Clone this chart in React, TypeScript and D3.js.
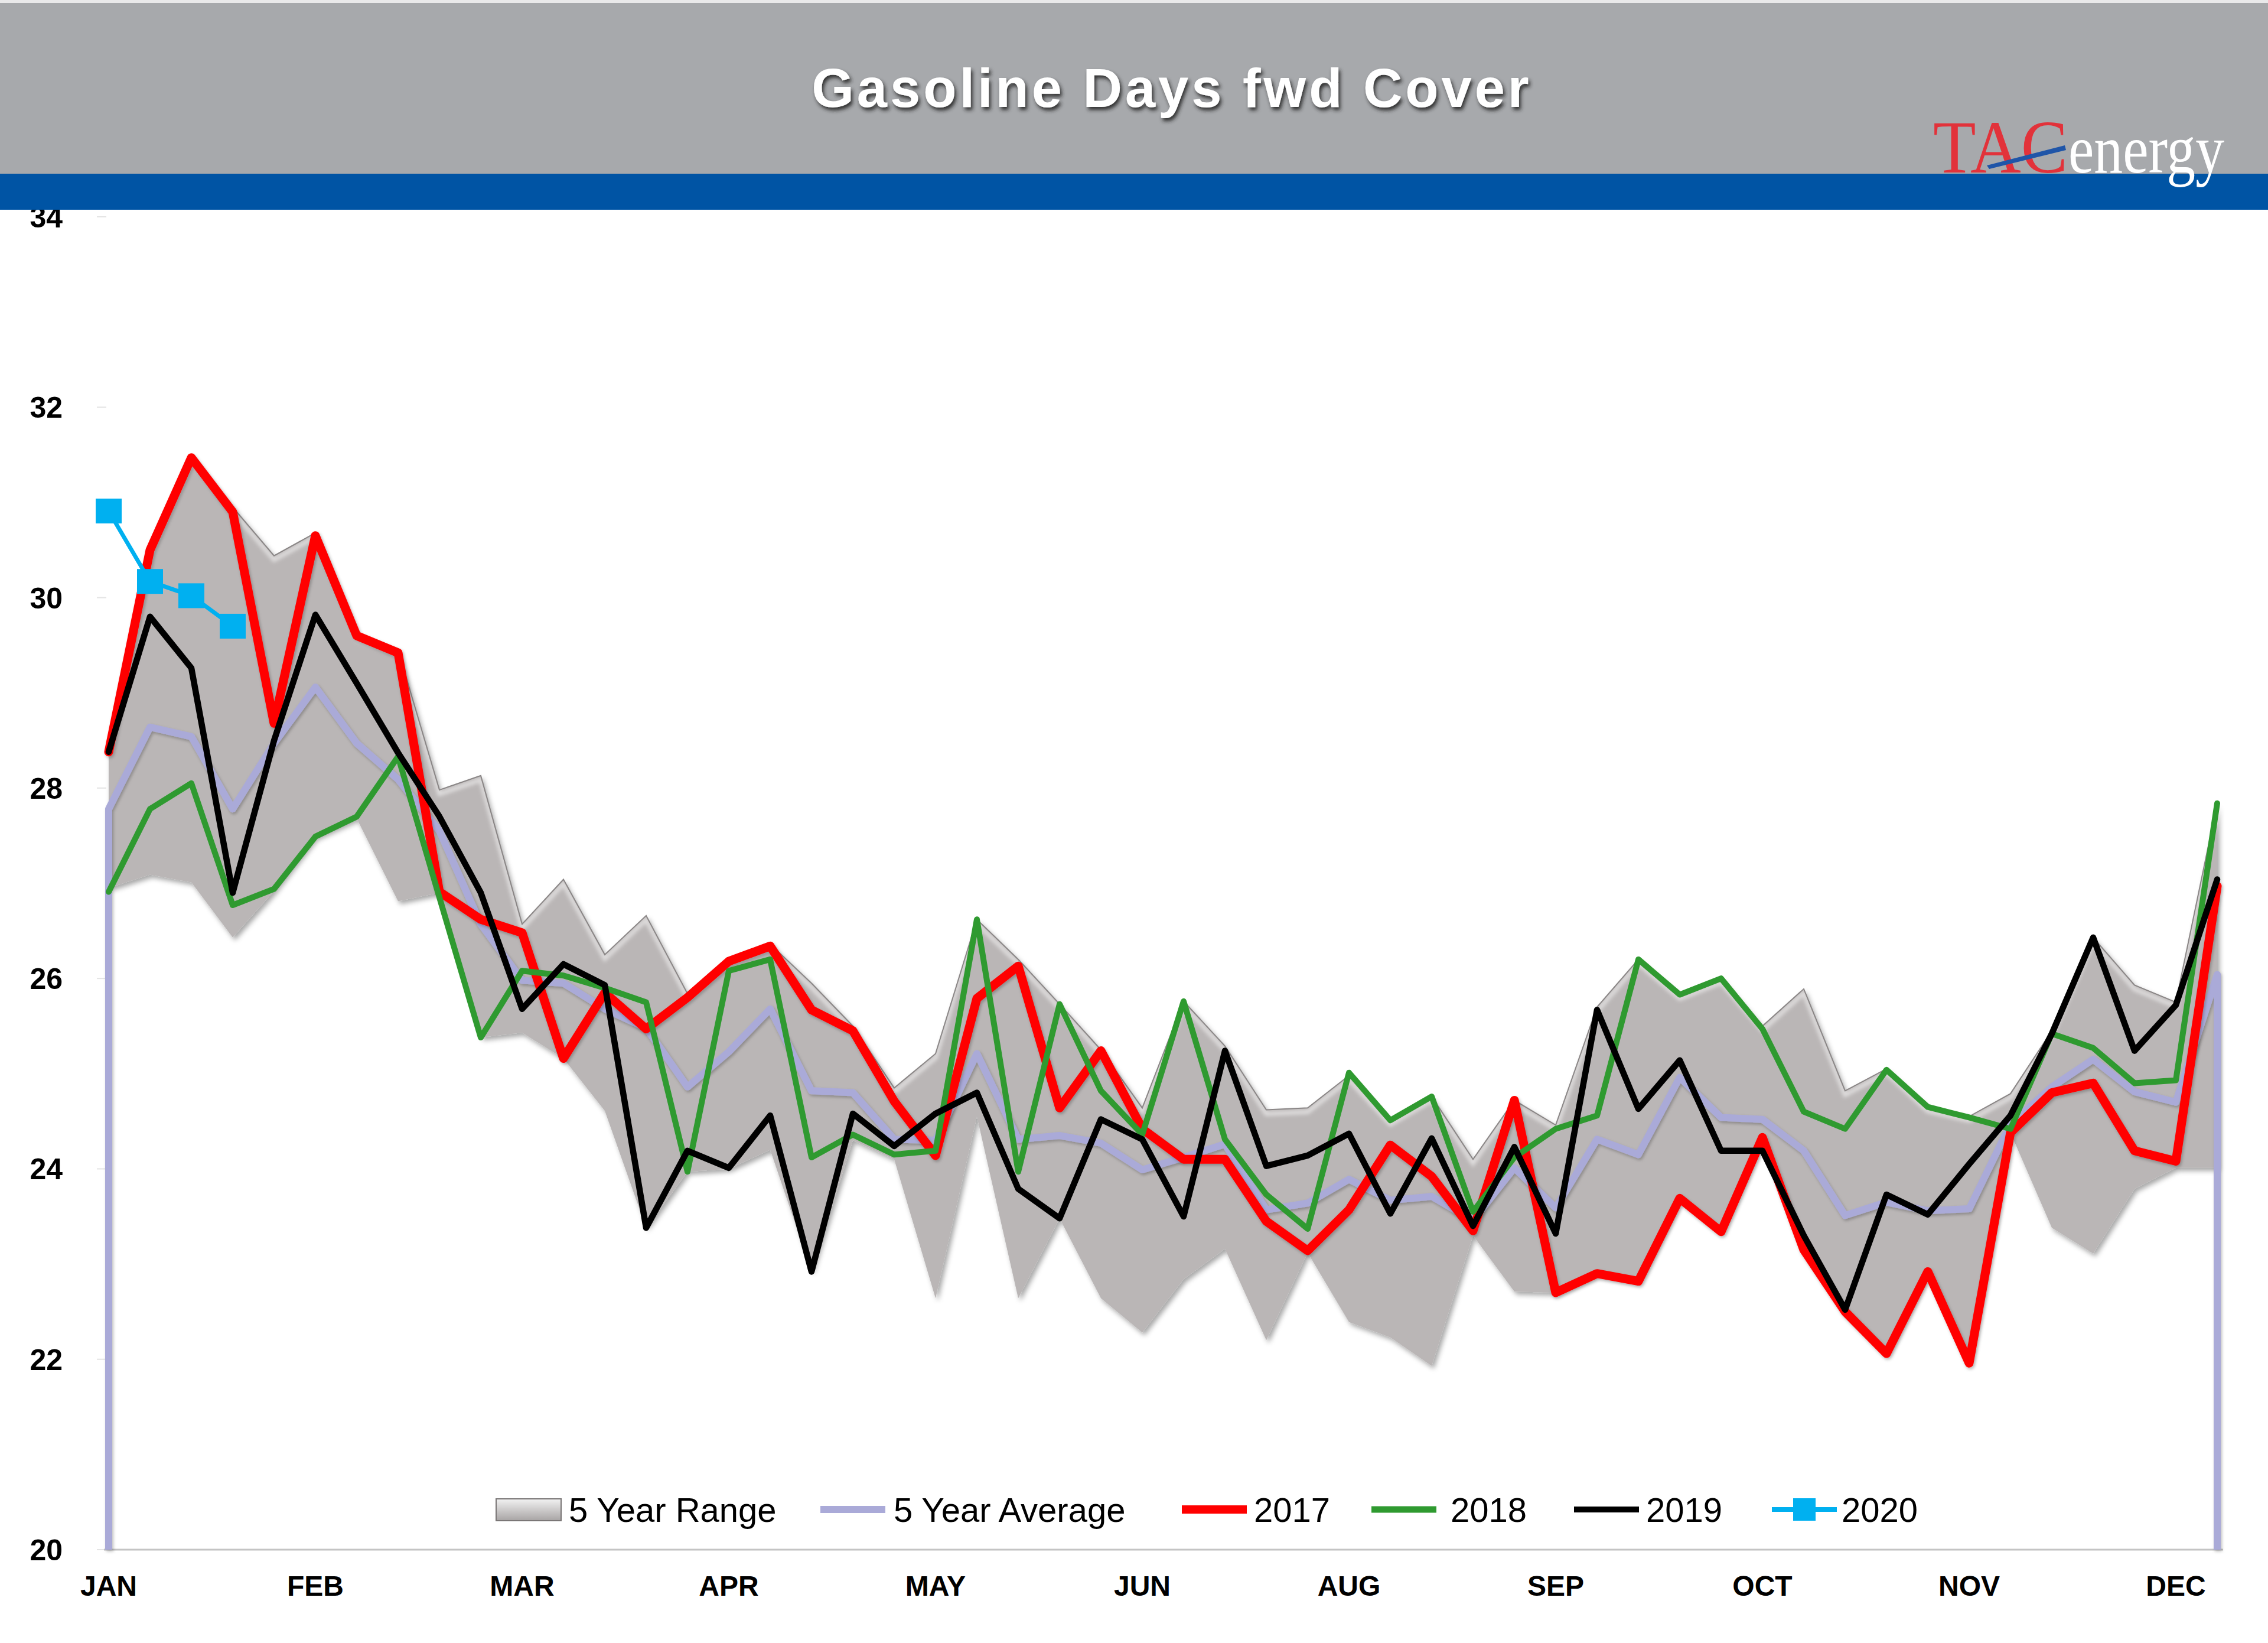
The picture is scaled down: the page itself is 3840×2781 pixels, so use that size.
import React from 'react';
import * as d3 from 'd3';

// ---- data (weekly, 52 weeks) ----
const rangeHigh = [28.4, 30.52, 31.47, 30.95, 30.44, 30.68, 29.6, 29.45, 27.98, 28.13,
  26.57, 27.04, 26.25, 26.66, 25.84, 26.2, 26.36, 25.95, 25.5, 24.85,
  25.21, 26.62, 26.2, 25.73, 25.25, 24.64, 25.76, 25.29, 24.62, 24.64,
  24.98, 24.51, 24.76, 24.1, 24.72, 24.46, 25.7, 26.2, 25.83, 26.0,
  25.5, 25.89, 24.82, 25.05, 24.65, 24.55, 24.79, 25.45, 26.43, 25.93,
  25.75, 27.84];
const rangeLow = [26.95, 27.09, 27.01, 26.43, 26.92, 27.48, 27.68, 26.81, 26.9, 25.38,
  25.43, 25.16, 24.61, 23.38, 23.97, 24.0, 24.2, 22.92, 24.3, 24.1,
  22.64, 24.55, 22.64, 23.48, 22.64, 22.28, 22.84, 23.16, 22.2, 23.12,
  22.39, 22.23, 21.93, 23.3, 22.71, 22.7, 22.9, 22.82, 23.69, 23.34,
  24.33, 23.15, 22.5, 22.06, 22.92, 21.96, 24.38, 23.38, 23.11, 23.79,
  24.01, 24.01];
const avg5 = [27.78, 28.64, 28.54, 27.78, 28.47, 29.06, 28.47, 28.09, 27.55, 26.57,
  25.98, 25.95, 25.68, 25.48, 24.86, 25.23, 25.68, 24.82, 24.8, 24.31,
  24.3, 25.21, 24.31, 24.35, 24.27, 23.99, 24.12, 24.26, 23.57, 23.64,
  23.89, 23.67, 23.71, 23.46, 24.01, 23.59, 24.31, 24.15, 24.96, 24.54,
  24.52, 24.19, 23.51, 23.65, 23.56, 23.58, 24.47, 24.86, 25.15, 24.81,
  24.7, 26.04];
const y2017 = [28.38, 30.5, 31.47, 30.9, 28.68, 30.65, 29.6, 29.42, 26.91, 26.62,
  26.48, 25.16, 25.85, 25.47, 25.8, 26.18, 26.34, 25.67, 25.45, 24.71,
  24.14, 25.79, 26.13, 24.64, 25.24, 24.42, 24.1, 24.1, 23.45, 23.14,
  23.57, 24.25, 23.92, 23.35, 24.72, 22.7, 22.9, 22.82, 23.69, 23.34,
  24.33, 23.15, 22.5, 22.06, 22.92, 21.96, 24.38, 24.8, 24.9, 24.19,
  24.08, 26.97];
const y2018 = [26.91, 27.78, 28.05, 26.77, 26.94, 27.49, 27.7, 28.33, 26.85, 25.38,
  26.08, 26.03, 25.9, 25.75, 23.97, 26.08, 26.2, 24.12, 24.36, 24.15,
  24.19, 26.62, 23.97, 25.73, 24.82, 24.36, 25.76, 24.31, 23.73, 23.37,
  25.01, 24.51, 24.76, 23.55, 24.12, 24.42, 24.56, 26.2, 25.83, 26.0,
  25.47, 24.6, 24.42, 25.04, 24.65, 24.54, 24.42, 25.42, 25.27, 24.9,
  24.93, 27.84];
const y2019 = [28.38, 29.8, 29.26, 26.9, 28.5, 29.82, 29.1, 28.37, 27.7, 26.9,
  25.68, 26.15, 25.93, 23.38, 24.19, 24.01, 24.56, 22.92, 24.58, 24.24,
  24.58, 24.8, 23.79, 23.48, 24.52, 24.31, 23.5, 25.24, 24.03, 24.14,
  24.37, 23.53, 24.32, 23.4, 24.23, 23.32, 25.67, 24.63, 25.14, 24.19,
  24.19, 23.3, 22.52, 23.73, 23.52, 24.05, 24.56, 25.42, 26.43, 25.24,
  25.72, 27.04];
const y2020 = [30.91, 30.17, 30.02, 29.7];

const monthLabels = ['JAN', 'FEB', 'MAR', 'APR', 'MAY', 'JUN', 'AUG', 'SEP', 'OCT', 'NOV', 'DEC'];
const labelEvery = 5;
const yTicks = [20, 22, 24, 26, 28, 30, 32, 34];
const legendNames = ['5 Year Range', '5 Year Average', '2017', '2018', '2019', '2020'];
const titleText = 'Gasoline Days fwd Cover';

// ---- styling ----
const W = 3840, H = 2781;
const FONT = '"Liberation Sans", Arial, Helvetica, sans-serif';
const SERIF = '"Liberation Serif", "Times New Roman", serif';
const C_RANGE = '#bab6b6';
const C_AVG = '#aaaad8';
const C_2017 = '#ff0000';
const C_2018 = '#2f9a30';
const C_2019 = '#000000';
const C_2020 = '#00b0f0';

export default function App() {
  const idx = rangeHigh.map((_, i) => i);
  const x = d3.scalePoint<number>().domain(idx).range([184, 3754]);
  const y = d3.scaleLinear().domain([20, 34]).range([2623, 367]);

  const area = d3.area<number>()
    .x((i) => x(i) as number)
    .y0((i) => y(rangeLow[i]))
    .y1((i) => y(rangeHigh[i]));
  const lineOf = (vals: number[]) =>
    d3.line<number>().x((_, i) => x(i) as number).y((v) => y(v))(vals) as string;
  const highLine = lineOf(rangeHigh);

  // 5-year average drawn as an outlined area (drops to the axis at both ends)
  const avgPts: [number, number][] = [
    [x(0) as number, y(20)],
    ...avg5.map((v, i) => [x(i) as number, y(v)] as [number, number]),
    [x(avg5.length - 1) as number, y(20)],
  ];
  const avgPath = d3.line()(avgPts) as string;

  const legendY = 2555;
  const legendItems = [
    { sw: 840, tx: 963 },
    { sw: 1389, tx: 1513 },
    { sw: 2001, tx: 2123 },
    { sw: 2322, tx: 2456 },
    { sw: 2665, tx: 2787 },
    { sw: 3000, tx: 3118 },
  ];
  const swW = 110;

  return (
    <svg width={W} height={H} viewBox={`0 0 ${W} ${H}`}
      style={{ position: 'absolute', left: 0, top: 0, display: 'block', background: '#fff' }}>
      <defs>
        <filter id="shadow" x="-5%" y="-5%" width="110%" height="115%">
          <feDropShadow dx="4" dy="5" stdDeviation="4" floodColor="#000" floodOpacity="0.35" />
        </filter>
        <filter id="lshadow" x="-5%" y="-5%" width="110%" height="115%">
          <feDropShadow dx="2" dy="3" stdDeviation="2.5" floodColor="#000" floodOpacity="0.25" />
        </filter>
        <filter id="tshadow" x="-5%" y="-20%" width="110%" height="150%">
          <feDropShadow dx="3" dy="5" stdDeviation="3" floodColor="#222" floodOpacity="0.9" />
        </filter>
        <filter id="blur1"><feGaussianBlur stdDeviation="3" /></filter>
        <clipPath id="rangeClip"><path d={area(idx) as string} /></clipPath>
        <linearGradient id="swGrad" x1="0" y1="0" x2="0" y2="1">
          <stop offset="0" stopColor="#f2f2f2" />
          <stop offset="1" stopColor="#a8a4a4" />
        </linearGradient>
      </defs>

      <rect x={0} y={0} width={W} height={H} fill="#ffffff" />

      {/* y tick marks (faint) */}
      {yTicks.map((t) => (
        <line key={'tm' + t} x1={164} x2={180} y1={y(t)} y2={y(t)} stroke="#e4e4e4" strokeWidth={2} />
      ))}

      {/* bottom axis line with soft shadow */}
      <line x1={176} x2={3764} y1={y(20) + 2} y2={y(20) + 2} stroke="#9a9a9a" strokeWidth={9} filter="url(#blur1)" />
      <line x1={176} x2={3764} y1={y(20)} y2={y(20)} stroke="#c4c4c4" strokeWidth={3} />

      {/* 5 year range */}
      <g filter="url(#shadow)">
        <path d={area(idx) as string} fill={C_RANGE} />
      </g>
      <g clipPath="url(#rangeClip)">
        <path d={highLine} transform="translate(0,7)" fill="none" stroke="#ffffff" strokeOpacity={0.55} strokeWidth={7} filter="url(#blur1)" />
      </g>
      <path d={highLine} fill="none" stroke="#8a8686" strokeWidth={2} />

      {/* 5 year average */}
      <path d={avgPath} fill="none" stroke={C_AVG} strokeWidth={12} strokeLinejoin="round" filter="url(#lshadow)" />

      {/* yearly lines */}
      <path d={lineOf(y2017)} fill="none" stroke={C_2017} strokeWidth={15} strokeLinejoin="round" strokeLinecap="round" filter="url(#lshadow)" />
      <path d={lineOf(y2018)} fill="none" stroke={C_2018} strokeWidth={10} strokeLinejoin="round" strokeLinecap="round" />
      <path d={lineOf(y2019)} fill="none" stroke={C_2019} strokeWidth={10.5} strokeLinejoin="round" strokeLinecap="round" />
      <path d={lineOf(y2020)} fill="none" stroke={C_2020} strokeWidth={7} strokeLinejoin="round" />
      {y2020.map((v, i) => (
        <rect key={'m' + i} x={(x(i) as number) - 22} y={y(v) - 21} width={44} height={42} fill={C_2020} />
      ))}

      {/* y labels */}
      {yTicks.map((t) => (
        <text key={'yl' + t} x={106} y={y(t) + 18} textAnchor="end" fontFamily={FONT}
          fontWeight="bold" fontSize={50} fill="#000">{t}</text>
      ))}

      {/* x labels */}
      {monthLabels.map((m, k) => (
        <text key={m} x={x(k * labelEvery) as number} y={2701} textAnchor="middle" fontFamily={FONT}
          fontWeight="bold" fontSize={48} fill="#000">{m}</text>
      ))}

      {/* legend */}
      <g>
        <rect x={legendItems[0].sw} y={legendY - 18} width={swW} height={37} fill="url(#swGrad)" stroke="#7a7676" strokeWidth={2} />
        <line x1={legendItems[1].sw} x2={legendItems[1].sw + swW} y1={legendY} y2={legendY} stroke={C_AVG} strokeWidth={12} />
        <line x1={legendItems[2].sw} x2={legendItems[2].sw + swW} y1={legendY} y2={legendY} stroke={C_2017} strokeWidth={14} />
        <line x1={legendItems[3].sw} x2={legendItems[3].sw + swW} y1={legendY} y2={legendY} stroke={C_2018} strokeWidth={11} />
        <line x1={legendItems[4].sw} x2={legendItems[4].sw + swW} y1={legendY} y2={legendY} stroke={C_2019} strokeWidth={10} />
        <line x1={legendItems[5].sw} x2={legendItems[5].sw + swW} y1={legendY} y2={legendY} stroke={C_2020} strokeWidth={8} />
        <rect x={legendItems[5].sw + swW / 2 - 19} y={legendY - 19} width={38} height={38} fill={C_2020} />
        {legendNames.map((n, k) => (
          <text key={n} x={legendItems[k].tx} y={legendY + 21} fontFamily={FONT} fontSize={58} fill="#000">{n}</text>
        ))}
      </g>

      {/* header */}
      <rect x={0} y={0} width={W} height={294} fill="#a7a9ac" />
      <rect x={0} y={0} width={W} height={5} fill="#e9e9ea" />
      <rect x={0} y={294} width={W} height={61} fill="#0054a4" />
      <text x={1984} y={181} textAnchor="middle" fontFamily={FONT} fontWeight="bold" fontSize={92}
        letterSpacing={5} fill="#ffffff" filter="url(#tshadow)">{titleText}</text>

      {/* logo */}
      <text x={3273} y={292} fontFamily={SERIF} fontSize={126} fill="#e2323a" textLength={228}
        lengthAdjust="spacingAndGlyphs">TAC</text>
      <text x={3502} y={292} fontFamily={SERIF} fontSize={116} fill="#ffffff" textLength={264}
        lengthAdjust="spacingAndGlyphs">energy</text>
      <path d="M3364,280 L3496,246 L3498,254 L3368,286 Z" fill="#1f55a8" />
    </svg>
  );
}
